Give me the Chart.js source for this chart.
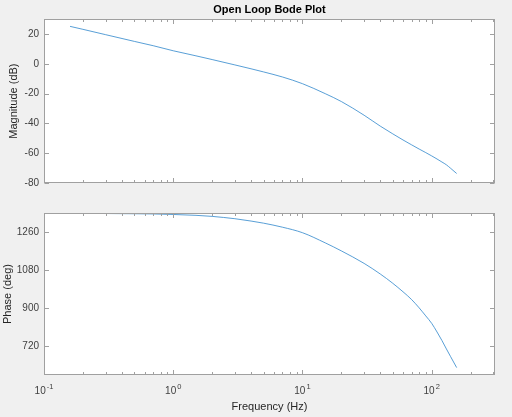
<!DOCTYPE html>
<html>
<head>
<meta charset="utf-8">
<title>Open Loop Bode Plot</title>
<script src="https://cdn.jsdelivr.net/npm/chart.js@4.4.1/dist/chart.umd.min.js"></script>
<style>
  html, body { margin: 0; padding: 0; background: #f0f0f0; }
  body { width: 512px; height: 417px; position: relative; overflow: hidden; }
  canvas { position: absolute; left: 0; }
  #magChart { top: 0; }
  #phaseChart { top: 195px; }
</style>
</head>
<body>
<canvas id="magChart" width="512" height="194"></canvas>
<canvas id="phaseChart" width="512" height="222"></canvas>
<script>
// --- Data ---
const freqHz = [0.159, 0.2, 0.3, 0.5, 0.7, 1, 1.5, 2, 3, 4, 5, 7, 10, 15, 20, 30, 40, 50, 60, 70, 80, 90, 100, 110, 120, 130, 140, 156];
const magnitudeDb = [25.2, 23.2, 19.6, 15.1, 12.2, 8.8, 5.4, 2.9, -0.7, -3.3, -5.4, -8.8, -13.3, -20.0, -25.3, -34.5, -41.8, -47.0, -51.1, -54.4, -57.2, -59.6, -61.8, -63.9, -65.9, -67.8, -70.1, -73.6];
const phaseDeg = [1348.5, 1348, 1347.5, 1346.5, 1345.5, 1343, 1339, 1334, 1323, 1312, 1302, 1283, 1257, 1209, 1171, 1112, 1062, 1018, 978, 941, 902, 864, 829, 788, 748, 708, 672, 620];

// axis ticks
const freqTicks = [0.1, 1, 10, 100];
const freqTickExponents = ['-1', '0', '1', '2'];
const magTicks = [-80, -60, -40, -20, 0, 20];
const phaseTicks = [720, 900, 1080, 1260];

const fontFamily = "'Liberation Sans', Arial, sans-serif";
Chart.defaults.font.family = fontFamily;
Chart.defaults.color = '#404040';

const axisGray = '#a0a0a0';
const labelGray = '#404040';
const lineBlue = '#2f86cc';

// MATLAB-ish box: white plot area, frame and inward ticks on all sides
const frameBox = {
  id: 'frameBox',
  beforeDraw(chart) {
    const { ctx, chartArea: a } = chart;
    ctx.save();
    ctx.fillStyle = '#ffffff';
    ctx.fillRect(a.left, a.top, a.right - a.left, a.bottom - a.top);
    ctx.restore();
  },
  afterDraw(chart, args, opts) {
    const { ctx, chartArea: a, scales } = chart;
    const x = scales.x, y = scales.y;
    const L = Math.round(a.left) + 0.5, R = Math.round(a.right) - 0.5;
    const T = Math.round(a.top) + 0.5, B = Math.round(a.bottom) - 0.5;
    ctx.save();
    ctx.strokeStyle = axisGray;
    ctx.lineWidth = 1;
    ctx.beginPath();
    y.ticks.forEach(t => {
      const py = Math.round(y.getPixelForValue(t.value)) + 0.5;
      ctx.moveTo(L, py); ctx.lineTo(L + 4.5, py);
      ctx.moveTo(R, py); ctx.lineTo(R - 4.5, py);
    });
    for (let e = -1; e <= 2; e++) {
      for (let m = 1; m <= 9; m++) {
        const v = m * Math.pow(10, e);
        if (v < x.min || v > x.max) continue;
        const px = Math.round(x.getPixelForValue(v)) + 0.5;
        const len = m === 1 ? 4.5 : 2.5;
        ctx.moveTo(px, B); ctx.lineTo(px, B - len);
        ctx.moveTo(px, T); ctx.lineTo(px, T + len);
      }
    }
    ctx.stroke();
    ctx.strokeRect(L, T, R - L, B - T);

    // decade labels as 10 with a raised exponent
    if (opts && opts.decadeLabels) {
      ctx.fillStyle = labelGray;
      ctx.textBaseline = 'alphabetic';
      ctx.textAlign = 'left';
      const baseFont = '10px ' + fontFamily;
      const expFont = '7.5px ' + fontFamily;
      freqTicks.forEach((v, i) => {
        const px = x.getPixelForValue(v);
        ctx.font = baseFont;
        const wBase = ctx.measureText('10').width;
        ctx.font = expFont;
        const wExp = ctx.measureText(freqTickExponents[i]).width;
        const start = px - (wBase + 1 + wExp) / 2;
        const baseline = a.bottom + 18.5;
        ctx.font = baseFont;
        ctx.fillText('10', start, baseline);
        ctx.font = expFont;
        ctx.fillText(freqTickExponents[i], start + wBase + 1, baseline - 5);
      });
    }
    ctx.restore();
  }
};

function yAxis(ticks, min, max, title, titlePad) {
  return {
    type: 'linear',
    min: min,
    max: max,
    afterBuildTicks: s => { s.ticks = ticks.map(v => ({ value: v })); },
    afterFit: s => { s.width = 44; },
    grid: { display: false, drawTicks: false },
    border: { display: false },
    ticks: { padding: 5, color: labelGray, font: { size: 10 }, callback: v => String(v) },
    title: { display: true, text: title, color: '#262626', font: { size: 11 }, padding: { top: titlePad, bottom: 0 } }
  };
}

function lineData(values) {
  return {
    datasets: [{
      data: freqHz.map((f, i) => ({ x: f, y: values[i] })),
      borderColor: lineBlue,
      borderWidth: 0.8,
      pointRadius: 0,
      cubicInterpolationMode: 'monotone',
      fill: false
    }]
  };
}

const common = {
  responsive: false,
  animation: false,
  events: []
};

// --- Magnitude ---
new Chart(document.getElementById('magChart'), {
  type: 'line',
  data: lineData(magnitudeDb),
  plugins: [frameBox],
  options: {
    ...common,
    layout: { padding: { left: 0, right: 17, top: 0, bottom: 0 } },
    plugins: {
      legend: { display: false },
      tooltip: { enabled: false },
      title: {
        display: true,
        text: 'Open Loop Bode Plot',
        fullSize: false,
        color: '#000000',
        font: { size: 11, weight: 'bold' },
        padding: { top: 3, bottom: 3 }
      }
    },
    scales: {
      x: { type: 'logarithmic', min: 0.1, max: 309, display: false },
      y: yAxis(magTicks, -80, 30, 'Magnitude (dB)', 7)
    }
  }
});

// --- Phase ---
new Chart(document.getElementById('phaseChart'), {
  type: 'line',
  data: lineData(phaseDeg),
  plugins: [frameBox],
  options: {
    ...common,
    layout: { padding: { left: 0, right: 17, top: 18, bottom: 0 } },
    plugins: {
      legend: { display: false },
      tooltip: { enabled: false },
      frameBox: { decadeLabels: true }
    },
    scales: {
      x: {
        type: 'logarithmic',
        min: 0.1,
        max: 309,
        position: 'bottom',
        afterBuildTicks: s => { s.ticks = freqTicks.map(v => ({ value: v })); },
        afterFit: s => { s.height = 42; },
        grid: { display: false, drawTicks: false },
        border: { display: false },
        ticks: { display: false },
        title: { display: true, text: 'Frequency (Hz)', color: '#262626', font: { size: 11 }, padding: { top: 0, bottom: 3 } }
      },
      y: yAxis(phaseTicks, 585, 1350, 'Phase (deg)', 1)
    }
  }
});
</script>
</body>
</html>
